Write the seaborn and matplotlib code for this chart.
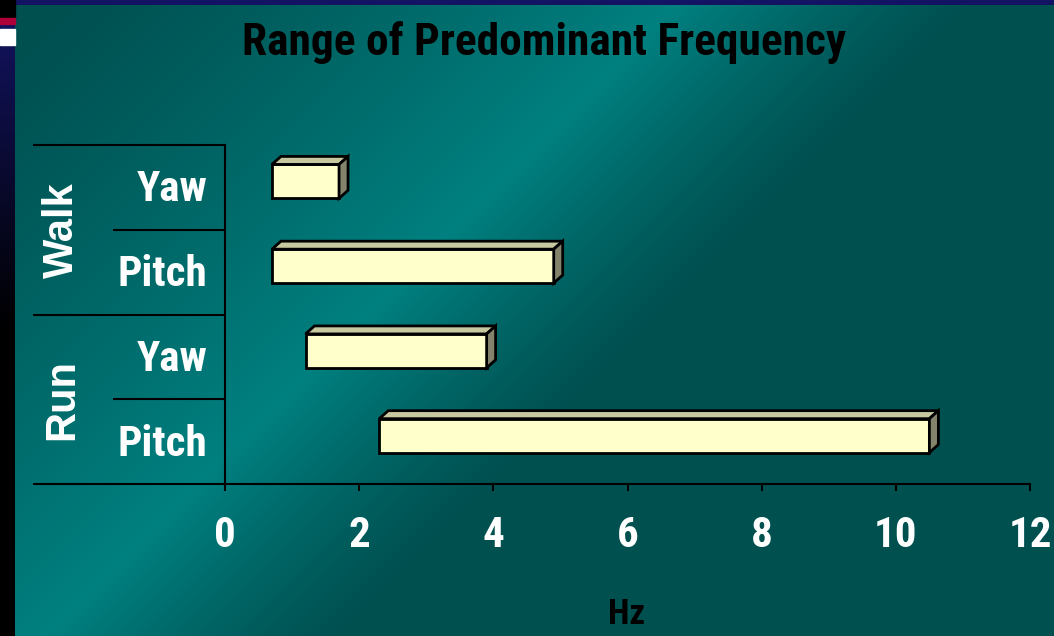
import numpy as np
import pandas as pd
import matplotlib.pyplot as plt
import matplotlib.transforms as mtransforms
from matplotlib import font_manager
from matplotlib.patches import Polygon, Rectangle
import seaborn as sns

# datos
grupos = ['Walk', 'Walk', 'Run', 'Run']
ejes = ['Yaw', 'Pitch', 'Yaw', 'Pitch']
inicio = [0.7, 0.7, 1.2, 2.3]
fin = [1.7, 4.9, 3.9, 10.5]
ticks_x = [0, 2, 4, 6, 8, 10, 12]

sns.set_style('ticks')

# fuente estrecha si existe, si no Liberation Sans algo mas pequena
instaladas = {f.name for f in font_manager.fontManager.ttflist}
estrecha = [n for n in ['Liberation Sans Narrow', 'Roboto Condensed', 'Arial Narrow']
            if n in instaladas]
if estrecha:
    plt.rcParams['font.family'] = [estrecha[0], 'Liberation Sans', 'DejaVu Sans']
    esc = 1.0
else:
    plt.rcParams['font.family'] = ['Liberation Sans', 'DejaVu Sans']
    esc = 0.88
ancha = ['Liberation Sans', 'DejaVu Sans']

W, H = 1054, 636
fig = plt.figure(figsize=(W / 100, H / 100), dpi=100)

# fondo: marco azul oscuro + panel verde azulado con degradado diagonal
bg = fig.add_axes([0, 0, 1, 1])
yy, xx = np.mgrid[0:H, 0:W]
s = xx + yy - 680.0
f = np.where(s < 0, np.clip(1 + s / 620.0, 0, 1), np.clip(1 - s / 300.0, 0, 1))
f = f ** 1.2
oscuro = np.array([0, 80, 80]) / 255
claro = np.array([0, 128, 128]) / 255
img = oscuro + f[..., None] * (claro - oscuro)
marco = np.array([20, 20, 100]) / 255
k = np.clip(1 - yy / 330.0, 0, 1)[..., None]
img_marco = marco * k
mask = (xx < 15) | (yy < 5)
img[mask] = img_marco[mask]
bg.imshow(img, extent=(0, W, H, 0), aspect='auto', interpolation='bilinear')
bg.add_patch(Rectangle((0, 0), 15, 17, color='black'))
bg.add_patch(Rectangle((0, 18), 15, 6, color='#b0003a'))
bg.add_patch(Rectangle((0, 29), 15, 16, color='white'))
bg.set_xlim(0, W)
bg.set_ylim(H, 0)
bg.axis('off')

# area del grafico
x0, x1, ytop, ybot = 225, 1030, 145, 484
ax = fig.add_axes([x0 / W, 1 - ybot / H, (x1 - x0) / W, (ybot - ytop) / H])
ax.patch.set_alpha(0)

df = pd.DataFrame({'fila': [g + ' ' + e for g, e in zip(grupos, ejes)],
                   'inicio': inicio, 'fin': fin})
sns.barplot(data=df, x='fin', y='fila', orient='h', width=0.4, errorbar=None,
            color='#ffffcc', saturation=1, edgecolor='black', linewidth=2, ax=ax)

ax.set_xlim(0, 12)
ax.set_ylim(3.5, -0.5)
ax.set_xticks(ticks_x)
ax.set_yticks([])
ax.set_xlabel('')
ax.set_ylabel('')
sns.despine(ax=ax, top=True, right=True)
for sp in ['left', 'bottom']:
    ax.spines[sp].set_linewidth(1.5)
    ax.spines[sp].set_color('black')
ax.tick_params(axis='x', direction='out', length=5, width=1.5, color='black',
               labelsize=31 * esc, labelcolor='white', pad=17)
for lab in ax.get_xticklabels():
    lab.set_fontweight('bold')

# barras flotantes con efecto 3D
px_x = (x1 - x0) / 12.0
px_y = (ybot - ytop) / 4.0
dx = 9 / px_x
dy = 8 / px_y
desplaz = 6 / px_y
for p, a, b in zip(ax.patches, inicio, fin):
    p.set_x(a)
    p.set_width(b - a)
    p.set_y(p.get_y() - desplaz)
    p.set_joinstyle('miter')
    yt = p.get_y()
    yb = yt + p.get_height()
    top = Polygon([(a, yt), (b, yt), (b + dx, yt - dy), (a + dx, yt - dy)],
                  closed=True, facecolor='#c8c8a0', edgecolor='black', lw=2,
                  joinstyle='miter', zorder=p.get_zorder())
    lado = Polygon([(b, yt), (b + dx, yt - dy), (b + dx, yb - dy), (b, yb)],
                   closed=True, facecolor='#84846c', edgecolor='black', lw=2,
                   joinstyle='miter', zorder=p.get_zorder())
    ax.add_patch(top)
    ax.add_patch(lado)

# lineas de la tabla de categorias
tr = mtransforms.blended_transform_factory(ax.transAxes, ax.transData)
izq_ext = (33 - x0) / (x1 - x0)
izq_int = (113 - x0) / (x1 - x0)
for yv, xs in [(-0.5, izq_ext), (0.5, izq_int), (1.5, izq_ext), (2.5, izq_int), (3.5, izq_ext)]:
    ax.plot([xs, 0], [yv, yv], color='black', lw=1.5, transform=tr, clip_on=False,
            solid_capstyle='butt')

xr = (207 - x0) / (x1 - x0)
for i, e in enumerate(ejes):
    ax.text(xr, i + 0.03, e, transform=tr, ha='right', va='center', color='white',
            fontsize=31 * esc, fontweight='bold')
xg = (62 - x0) / (x1 - x0)
for nombre, yc in [('Walk', 0.5), ('Run', 2.5)]:
    ax.text(xg, yc, nombre, transform=tr, ha='center', va='center', rotation=90,
            color='white', fontsize=30, fontweight='bold', family=ancha)

fig.text(544 / W, 1 - 55 / H, 'Range of Predominant Frequency', ha='center',
         va='baseline', fontsize=32.7 * esc, fontweight='bold', color='black')
fig.text(627 / W, 1 - 624 / H, 'Hz', ha='center', va='baseline', fontsize=25 * esc,
         fontweight='bold', color='black')

fig.savefig('out.png', dpi=100)
